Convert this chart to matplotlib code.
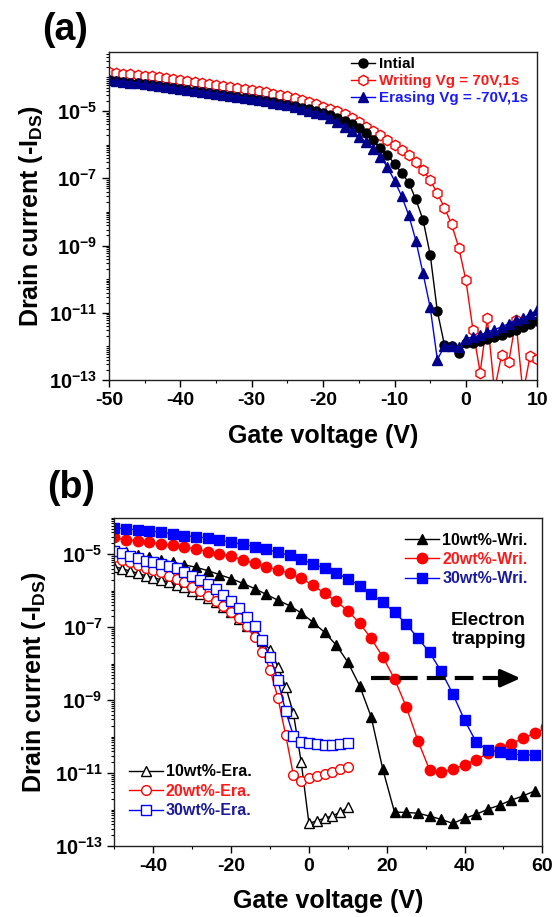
import numpy as np
import matplotlib
matplotlib.use('Agg')
import matplotlib.pyplot as plt
from matplotlib.ticker import FixedLocator, FuncFormatter, LogLocator, MultipleLocator, NullFormatter

plt.rcParams['font.family'] = ['Liberation Sans', 'DejaVu Sans']
plt.rcParams['font.weight'] = 'bold'
plt.rcParams['axes.unicode_minus'] = False
plt.rcParams['mathtext.fontset'] = 'custom'
plt.rcParams['mathtext.rm'] = 'Liberation Sans:bold'
plt.rcParams['mathtext.bf'] = 'Liberation Sans:bold'
plt.rcParams['mathtext.default'] = 'bf'

# ---- panel (a): transfer curves, log10 of -I_DS, one point per volt ----
vg_a = np.arange(-50, 11)

initial_log = [
    -4.08, -4.10, -4.12, -4.15, -4.17, -4.20, -4.22, -4.25, -4.27, -4.30,
    -4.33, -4.36, -4.39, -4.42, -4.45, -4.48, -4.51, -4.54, -4.57, -4.60,
    -4.63, -4.66, -4.70, -4.74, -4.78, -4.82, -4.86, -4.90, -4.95, -5.00,
    -5.05, -5.12, -5.20, -5.29, -5.39, -5.50, -5.65, -5.86, -6.11, -6.31,
    -6.56, -6.84, -7.13, -7.63, -8.24, -9.27, -10.95, -11.96, -12.00, -12.20,
    -11.90, -11.90, -11.85, -11.78, -11.72, -11.65, -11.57, -11.50, -11.42, -11.33, -11.24]

writing_log = [
    -3.85, -3.87, -3.89, -3.91, -3.93, -3.95, -3.97, -4.00, -4.02, -4.05,
    -4.08, -4.10, -4.13, -4.16, -4.19, -4.22, -4.25, -4.28, -4.31, -4.34,
    -4.37, -4.40, -4.44, -4.48, -4.52, -4.56, -4.61, -4.66, -4.72, -4.80,
    -4.88, -4.94, -5.01, -5.09, -5.20, -5.32, -5.47, -5.60, -5.72, -5.86,
    -6.01, -6.16, -6.31, -6.51, -6.76, -7.05, -7.45, -7.87, -8.37, -9.06,
    -10.03, -11.52, -12.78, -11.17, -13.30, -12.26, -12.47, -11.22, -13.40, -12.28, -12.38]

erasing_log = [
    -4.08, -4.10, -4.12, -4.15, -4.17, -4.20, -4.22, -4.25, -4.27, -4.30,
    -4.33, -4.36, -4.39, -4.42, -4.45, -4.48, -4.51, -4.54, -4.57, -4.60,
    -4.63, -4.67, -4.71, -4.75, -4.79, -4.83, -4.88, -4.93, -4.99, -5.05,
    -5.10, -5.21, -5.33, -5.46, -5.60, -5.76, -5.93, -6.12, -6.36, -6.66,
    -7.07, -7.53, -8.10, -8.86, -9.83, -10.84, -12.39, -12.00, -11.99, -12.03,
    -11.77, -11.72, -11.67, -11.57, -11.50, -11.42, -11.32, -11.22, -11.17, -11.04, -10.92]

labels_a = ['Intial', 'Writing Vg = 70V,1s', 'Erasing Vg = -70V,1s']

# ---- panel (b): writing (every 3 V) and erasing (every 2 V) curves ----
vg_wri = np.arange(-50, 62, 3)
vg_era = np.arange(-50, 11, 2)

w10_log = [
    -4.88, -4.95, -5.02, -5.09, -5.16, -5.22, -5.29, -5.36, -5.45, -5.56,
    -5.67, -5.80, -5.94, -6.10, -6.26, -6.41, -6.61, -6.86, -7.14, -7.49,
    -7.96, -8.60, -9.46, -10.90, -12.07, -12.08, -12.10, -12.18, -12.27, -12.38,
    -12.24, -12.13, -11.99, -11.88, -11.74, -11.63, -11.49]
w20_log = [
    -4.54, -4.61, -4.63, -4.67, -4.72, -4.76, -4.81, -4.86, -4.93, -4.99,
    -5.06, -5.16, -5.25, -5.34, -5.43, -5.52, -5.66, -5.85, -6.07, -6.29,
    -6.55, -6.89, -7.31, -7.82, -8.42, -9.18, -10.11, -10.91, -10.98, -10.89,
    -10.77, -10.63, -10.46, -10.32, -10.19, -10.05, -9.91, -9.75]
w30_log = [
    -4.27, -4.31, -4.33, -4.36, -4.40, -4.44, -4.49, -4.52, -4.56, -4.61,
    -4.67, -4.73, -4.79, -4.86, -4.95, -5.03, -5.13, -5.27, -5.38, -5.52,
    -5.67, -5.86, -6.09, -6.32, -6.59, -6.91, -7.30, -7.69, -8.21, -8.83,
    -9.55, -10.15, -10.37, -10.43, -10.48, -10.50, -10.50]

e10_log = [
    -5.34, -5.40, -5.46, -5.52, -5.59, -5.64, -5.70, -5.77, -5.84, -5.91,
    -6.00, -6.10, -6.21, -6.32, -6.44, -6.59, -6.77, -6.96, -7.17, -7.38,
    -7.62, -8.08, -8.63, -9.36, -10.70, -12.38, -12.31, -12.24, -12.17, -12.08, -11.94]
e20_log = [
    -5.09, -5.16, -5.22, -5.29, -5.37, -5.43, -5.50, -5.59, -5.68, -5.77,
    -5.89, -6.01, -6.14, -6.28, -6.43, -6.59, -6.74, -6.97, -7.28, -7.67,
    -8.17, -8.93, -9.95, -11.05, -11.21, -11.14, -11.08, -11.03, -10.96, -10.89, -10.82]
e30_log = [
    -4.91, -4.97, -5.06, -5.11, -5.18, -5.22, -5.27, -5.31, -5.38, -5.49,
    -5.59, -5.70, -5.82, -5.95, -6.12, -6.28, -6.48, -6.71, -6.98, -7.35,
    -7.81, -8.45, -9.30, -9.97, -10.14, -10.18, -10.21, -10.23, -10.23, -10.21, -10.18]

labels_wri = ['10wt%-Wri.', '20wt%-Wri.', '30wt%-Wri.']
labels_era = ['10wt%-Era.', '20wt%-Era.', '30wt%-Era.']


def curr(vals):
    return 10.0 ** np.array(vals)


def style_log_axis(ax, ymax):
    ax.set_yscale('log')
    ax.set_ylim(1e-13, ymax)
    ax.yaxis.set_major_locator(FixedLocator([1e-13, 1e-11, 1e-9, 1e-7, 1e-5]))
    ax.yaxis.set_major_formatter(FuncFormatter(lambda v, p: r'$10^{%d}$' % round(np.log10(v))))
    ax.yaxis.set_minor_locator(LogLocator(base=10, subs=np.arange(1, 10) * 1.0, numticks=100))
    ax.yaxis.set_minor_formatter(NullFormatter())
    ax.tick_params(which='major', direction='out', length=5, width=1, labelsize=14,
                   top=False, right=False)
    ax.tick_params(axis='y', which='major', labelsize=14.5)
    ax.tick_params(which='minor', direction='out', length=2.5, width=0.8,
                   top=False, right=False)
    for s in ax.spines.values():
        s.set_linewidth(1.0)
        s.set_color('#222222')


fig = plt.figure(figsize=(5.56, 9.17), dpi=100)

# ---------------- (a) ----------------
ax = fig.add_axes([0.196, 0.5856, 0.7703, 0.3574])
l_w, = ax.plot(vg_a, curr(writing_log), '-h', color='#ff0000', mfc='white', mec='#ff0000',
               ms=7.5, mew=1.0, lw=1.0)
l_i, = ax.plot(vg_a, curr(initial_log), '-o', color='black', ms=6.5, lw=1.0)
l_e, = ax.plot(vg_a, curr(erasing_log), '-^', color='#0000ff', mfc='#00008b', mec='#00008b',
               ms=7, lw=1.0)
ax.set_xlim(-50, 10)
style_log_axis(ax, 10 ** -3.25)
ax.xaxis.set_major_locator(MultipleLocator(10))
ax.xaxis.set_minor_locator(MultipleLocator(5))
ax.set_xlabel('Gate voltage (V)', fontsize=18, fontweight='bold')
ax.set_ylabel(r'Drain current (-I$_{DS}$)', fontsize=18, fontweight='bold')
ax.xaxis.set_label_coords(0.5, -0.135)
ax.yaxis.set_label_coords(-0.15, 0.5)
leg = ax.legend([l_i, l_w, l_e], labels_a, loc='upper left', bbox_to_anchor=(0.565, 0.985),
                frameon=False, prop={'weight': 'bold', 'size': 11}, handlelength=1.6,
                handletextpad=0.25, labelspacing=0.2, borderpad=0, borderaxespad=0)
for t, c in zip(leg.get_texts(), ['black', '#ff1a1a', '#1a1aff']):
    t.set_color(c)
fig.text(0.075, 0.967, '(a)', fontsize=27, fontweight='bold', ha='left', va='center')

# ---------------- (b) ----------------
bx = fig.add_axes([0.2059, 0.0774, 0.7695, 0.358])
h10, = bx.plot(vg_wri[:len(w10_log)], curr(w10_log), '-^', color='black', ms=7.5, lw=1.0)
h20, = bx.plot(vg_wri[:len(w20_log)], curr(w20_log), '-o', color='#ff0000', ms=7.5, lw=1.0)
h30, = bx.plot(vg_wri[:len(w30_log)], curr(w30_log), '-s', color='#0000ff', ms=6.5, lw=1.0)
g10, = bx.plot(vg_era, curr(e10_log), '-^', color='black', mfc='white', ms=7, mew=1.0, lw=1.0)
g20, = bx.plot(vg_era, curr(e20_log), '-o', color='#ff0000', mfc='white', ms=7, mew=1.0, lw=1.0)
g30, = bx.plot(vg_era, curr(e30_log), '-s', color='#0000ff', mfc='white', ms=6.5, mew=1.0, lw=1.0)
bx.set_xlim(-50, 60)
style_log_axis(bx, 1e-4)
bx.xaxis.set_major_locator(FixedLocator([-40, -20, 0, 20, 40, 60]))
bx.xaxis.set_minor_locator(MultipleLocator(10))
bx.set_xlabel('Gate voltage (V)', fontsize=18, fontweight='bold')
bx.set_ylabel(r'Drain current (-I$_{DS}$)', fontsize=18, fontweight='bold')
bx.xaxis.set_label_coords(0.5, -0.13)
bx.yaxis.set_label_coords(-0.155, 0.5)

leg1 = bx.legend([h10, h20, h30], labels_wri, loc='upper left', bbox_to_anchor=(0.68, 0.955),
                 frameon=False, prop={'weight': 'bold', 'size': 11.5}, handlelength=2.1,
                 handletextpad=0.2, labelspacing=0.28, borderpad=0, borderaxespad=0)
for t, c in zip(leg1.get_texts(), ['black', '#ff1a1a', '#1a1a9c']):
    t.set_color(c)
bx.add_artist(leg1)
leg2 = bx.legend([g10, g20, g30], labels_era, loc='lower left', bbox_to_anchor=(0.034, 0.085),
                 frameon=False, prop={'weight': 'bold', 'size': 11.5}, handlelength=2.1,
                 handletextpad=0.2, labelspacing=0.28, borderpad=0, borderaxespad=0)
for t, c in zip(leg2.get_texts(), ['black', '#ff1a1a', '#1a1a9c']):
    t.set_color(c)

y_arrow = 10 ** -8.4
bx.plot([15.9, 50.5], [y_arrow, y_arrow], color='black', lw=3, ls=(0, (4.5, 2.2)))
bx.annotate('', xy=(54.4, y_arrow), xytext=(50.0, y_arrow),
            arrowprops=dict(arrowstyle='-|>,head_length=1.0,head_width=0.45', color='black',
                            lw=2.5, shrinkA=0, shrinkB=0, mutation_scale=12))
bx.text(46.2, 10 ** -7.08, 'Electron\ntrapping', fontsize=13.5, fontweight='bold',
        ha='center', va='center', linespacing=1.15)
fig.text(0.084, 0.468, '(b)', fontsize=27, fontweight='bold', ha='left', va='center')

fig.savefig('out.png', dpi=100)
